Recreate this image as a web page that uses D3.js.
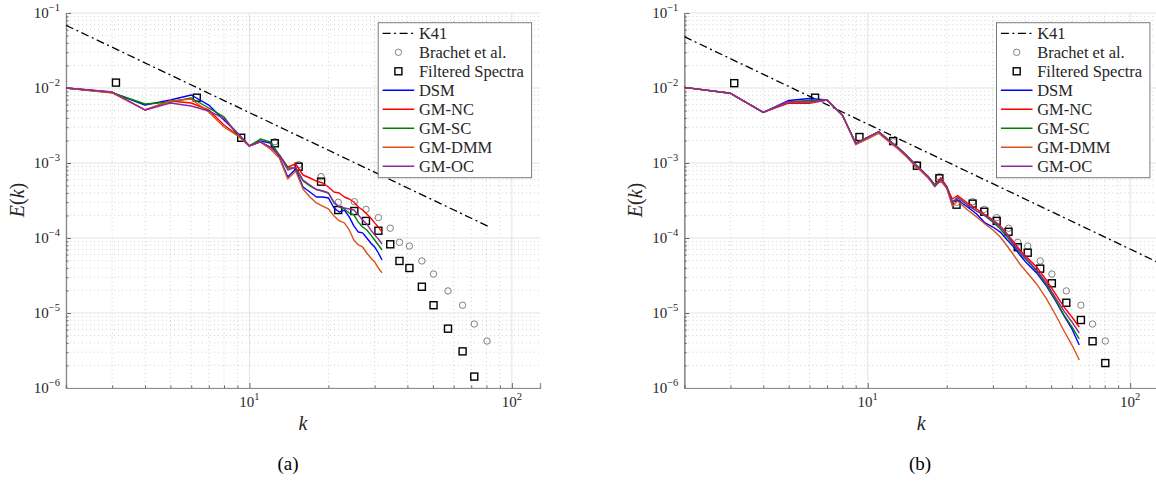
<!DOCTYPE html>
<html><head><meta charset="utf-8">
<script src="https://cdn.jsdelivr.net/npm/d3@7"></script>
<style>
body{margin:0;background:#fff}
svg{display:block}
svg text{font-family:"Liberation Serif","LiberationSerif","Tinos","DejaVu Serif","Times New Roman",serif;fill:#262626}
</style>
</head><body>
<svg id="chart" width="1156" height="481"></svg>
<script>
// ---------------- DATA ----------------
const seriesNames = ["DSM", "GM-NC", "GM-SC", "GM-DMM", "GM-OC"];

// Panel (a): LES spectra at integer wavenumbers
const kA = [2,3,4,5,6,7,8,9,10,11,12,13,14,15,16,17,18,19,20,21,22,23,24,25,26,27,28,29,30,31,32];
const dsmA = [1.0e-2,8.7e-3,5.93e-3,6.92e-3,8.07e-3,5.93e-3,3.74e-3,2.51e-3,1.69e-3,1.97e-3,1.85e-3,1.20e-3,6.51e-4,8.32e-4,4.79e-4,4.11e-4,3.52e-4,3.52e-4,3.42e-4,2.51e-4,2.22e-4,2.36e-4,1.91e-4,1.45e-4,1.20e-4,1.17e-4,1.0e-4,8.58e-5,7.59e-5,6.31e-5,5.09e-5];
const ncA  = [1.0e-2,8.84e-3,5.09e-3,6.71e-3,6.31e-3,5.09e-3,3.21e-3,2.36e-3,1.69e-3,1.91e-3,1.63e-3,1.28e-3,8.84e-4,9.70e-4,6.92e-4,6.31e-4,5.75e-4,5.41e-4,4.79e-4,4.11e-4,3.98e-4,3.52e-4,3.31e-4,3.02e-4,2.59e-4,2.36e-4,2.09e-4,1.85e-4,1.59e-4,1.40e-4,1.20e-4];
const scA  = [1.0e-2,8.7e-3,6.12e-3,6.51e-3,7.36e-3,5.41e-3,4.11e-3,2.36e-3,1.69e-3,2.09e-3,1.91e-3,1.28e-3,8.58e-4,8.58e-4,5.75e-4,4.94e-4,4.43e-4,4.23e-4,3.98e-4,2.93e-4,2.59e-4,2.44e-4,2.15e-4,2.03e-4,1.63e-4,1.40e-4,1.28e-4,1.10e-4,9.40e-5,8.07e-5,6.92e-5];
const dmmA = [1.0e-2,8.58e-3,5.09e-3,6.71e-3,7.13e-3,4.79e-3,3.02e-3,2.32e-3,1.69e-3,1.91e-3,1.54e-3,1.17e-3,6.12e-4,7.82e-4,4.50e-4,3.52e-4,2.93e-4,2.67e-4,2.44e-4,1.97e-4,1.69e-4,1.59e-4,1.28e-4,9.40e-5,8.07e-5,7.59e-5,6.31e-5,5.41e-5,4.79e-5,3.98e-5,3.42e-5];
const ocA  = [1.0e-2,8.84e-3,5.09e-3,6.31e-3,5.75e-3,4.94e-3,3.92e-3,2.51e-3,1.69e-3,1.91e-3,1.63e-3,1.28e-3,8.07e-4,8.84e-4,5.93e-4,5.09e-4,4.43e-4,4.23e-4,3.98e-4,3.02e-4,2.59e-4,2.51e-4,2.44e-4,2.36e-4,2.03e-4,1.74e-4,1.54e-4,1.28e-4,1.10e-4,9.70e-5,8.32e-5];

// Panel (b): LES spectra
const kB = [2,3,4,5,6,7,8,9,10,11,12,13,14,15,16,17,18,19,20,21,22,24,26,28,30,32,34,36,38,40,44,48,52,56,60,64];
const dsmB = [1.02e-2,8.5e-3,4.74e-3,6.82e-3,7.24e-3,6.92e-3,4.37e-3,1.83e-3,2.19e-3,2.61e-3,2.03e-3,1.62e-3,1.28e-3,9.9e-4,8.07e-4,6.57e-4,5.09e-4,6.06e-4,4.83e-4,3.02e-4,3.21e-4,2.59e-4,2.09e-4,1.59e-4,1.40e-4,1.20e-4,9.40e-5,7.59e-5,5.93e-5,4.79e-5,3.42e-5,2.29e-5,1.45e-5,9.12e-6,6.12e-6,3.74e-6];
const ncB  = [1.02e-2,8.5e-3,4.74e-3,6.31e-3,6.25e-3,6.92e-3,4.37e-3,1.83e-3,2.19e-3,2.61e-3,2.03e-3,1.62e-3,1.28e-3,9.9e-4,8.07e-4,6.57e-4,5.09e-4,6.36e-4,4.83e-4,3.31e-4,3.69e-4,2.93e-4,2.44e-4,2.03e-4,1.74e-4,1.45e-4,1.13e-4,8.84e-5,6.92e-5,5.75e-5,4.11e-5,2.75e-5,1.79e-5,1.20e-5,8.84e-6,6.51e-6];
const scB  = [1.02e-2,8.5e-3,4.74e-3,6.57e-3,6.82e-3,6.92e-3,4.37e-3,1.83e-3,2.19e-3,2.61e-3,2.03e-3,1.62e-3,1.28e-3,9.9e-4,8.07e-4,6.57e-4,5.09e-4,6.06e-4,4.83e-4,2.90e-4,3.49e-4,2.75e-4,2.29e-4,1.97e-4,1.63e-4,1.32e-4,1.03e-4,8.07e-5,6.31e-5,5.25e-5,3.63e-5,2.36e-5,1.49e-5,9.40e-6,6.51e-6,4.50e-6];
const dmmB = [1.02e-2,8.5e-3,4.74e-3,6.57e-3,6.45e-3,6.92e-3,4.37e-3,1.76e-3,2.09e-3,2.49e-3,1.94e-3,1.55e-3,1.22e-3,9.45e-4,7.7e-4,6.27e-4,4.94e-4,5.75e-4,4.57e-4,2.67e-4,3.11e-4,2.36e-4,1.91e-4,1.54e-4,1.28e-4,1.03e-4,7.82e-5,5.93e-5,4.50e-5,3.63e-5,2.44e-5,1.54e-5,9.40e-6,5.75e-6,3.74e-6,2.36e-6];
const ocB  = [1.02e-2,8.5e-3,4.74e-3,6.57e-3,6.51e-3,6.92e-3,4.37e-3,1.83e-3,2.19e-3,2.61e-3,2.03e-3,1.62e-3,1.28e-3,9.9e-4,8.07e-4,6.57e-4,4.83e-4,6.06e-4,4.83e-4,2.90e-4,3.49e-4,2.75e-4,2.29e-4,1.97e-4,1.69e-4,1.40e-4,1.10e-4,8.32e-5,6.51e-5,5.41e-5,3.74e-5,2.51e-5,1.59e-5,1.06e-5,7.59e-6,5.41e-6];

// Brachet et al. reference spectrum (same in both panels)
const kBrachet = [12.5,15.4,18.75,21.8,25.1,27.8,31,34.4,37.3,40.7,45.4,50.3,57.1,64.9,71.9,80.4];
const eBrachet = [1.92e-3,9.49e-4,6.57e-4,2.99e-4,3.05e-4,2.41e-4,1.87e-4,1.35e-4,8.77e-5,7.82e-5,4.94e-5,3.31e-5,1.97e-5,1.27e-5,7.13e-6,4.23e-6];

// Filtered spectra
const kFiltA = [3.1,6.3,9.3,12.5,15.4,18.75,21.8,25.1,27.8,31,34.4,37.3,40.7,45.4,50.3,57.1,64.9,71.9];
const eFiltA = [1.18e-2,7.43e-3,2.17e-3,1.83e-3,8.93e-4,5.64e-4,2.36e-4,2.29e-4,1.69e-4,1.25e-4,8.24e-5,4.94e-5,3.98e-5,2.24e-5,1.27e-5,6.18e-6,3.08e-6,1.42e-6];
const kFiltB = [3.1,6.3,9.3,12.5,15.4,18.75,21.8,25.1,27.8,31,34.4,37.3,40.7,45.4,50.3,57.1,64.9,71.9,80.4];
const eFiltB = [1.16e-2,7.43e-3,2.22e-3,1.96e-3,9.2e-4,6.25e-4,2.78e-4,2.87e-4,2.24e-4,1.69e-4,1.21e-4,7.54e-5,6.37e-5,3.9e-5,2.49e-5,1.37e-5,8.07e-6,4.2e-6,2.15e-6];

// K41 reference line end points
const kK41A = [2, 82];
const eK41A = [0.0686, 1.41e-4];
const kK41B = [2, 128];
const eK41B = [0.0483, 4.71e-5];

// Axis settings
const kDomain = [2, 128];
const eDomain = [1e-6, 1e-1];
const yTickExp = [-6, -5, -4, -3, -2, -1];
const xTickExp = [1, 2];
const panelLabels = ["(a)", "(b)"];

// ---------------- STYLE ----------------
const FONT = '"Liberation Serif","LiberationSerif","Tinos","DejaVu Serif","Times New Roman",serif';
const seriesColors = ["#0000ff", "#ff0000", "#008000", "#d95319", "#8e2a9c"];
const svg = d3.select("#chart");
const W = 474, H = 375;

const panels = [
  {x0: 66, y0: 13, k: kA, series: [dsmA, ncA, scA, dmmA, ocA], kF: kFiltA, eF: eFiltA, kK: kK41A, eK: eK41A, label: panelLabels[0], labelX: 288},
  {x0: 684.3, y0: 13, k: kB, series: [dsmB, ncB, scB, dmmB, ocB], kF: kFiltB, eF: eFiltB, kK: kK41B, eK: eK41B, label: panelLabels[1], labelX: 920}
];

function txt(sel) { return sel.append("text").attr("font-family", FONT).style("font-family", FONT); }

panels.forEach((p, pi) => {
  const x = d3.scaleLog().domain(kDomain).range([0, W]);
  const y = d3.scaleLog().domain(eDomain).range([H, 0]);
  const g = svg.append("g").attr("transform", `translate(${p.x0},${p.y0})`);

  const clipId = "clip" + pi;
  g.append("clipPath").attr("id", clipId).append("rect").attr("width", W).attr("height", H);

  // minor grid
  const isDecade = v => Math.abs(Math.log10(v) - Math.round(Math.log10(v))) < 1e-9;
  const xMinor = x.ticks().filter(v => !isDecade(v));
  const yMinor = y.ticks().filter(v => !isDecade(v));
  const grid = g.append("g");
  grid.selectAll("line.xm").data(xMinor).join("line")
    .attr("x1", d => x(d)).attr("x2", d => x(d)).attr("y1", 0).attr("y2", H)
    .attr("stroke", "#c8c8c8").attr("stroke-width", 0.8).attr("stroke-dasharray", "1,3");
  grid.selectAll("line.ym").data(yMinor).join("line")
    .attr("y1", d => y(d)).attr("y2", d => y(d)).attr("x1", 0).attr("x2", W)
    .attr("stroke", "#c8c8c8").attr("stroke-width", 0.8).attr("stroke-dasharray", "1,3");
  // major grid
  const xMajor = xTickExp.map(e => Math.pow(10, e));
  const yMajor = yTickExp.map(e => Math.pow(10, e));
  grid.selectAll("line.xM").data(xMajor).join("line")
    .attr("x1", d => x(d)).attr("x2", d => x(d)).attr("y1", 0).attr("y2", H)
    .attr("stroke", "#e3e3e3").attr("stroke-width", 1);
  grid.selectAll("line.yM").data(yMajor).join("line")
    .attr("y1", d => y(d)).attr("y2", d => y(d)).attr("x1", 0).attr("x2", W)
    .attr("stroke", "#e3e3e3").attr("stroke-width", 1);

  // axes (inward ticks)
  const yAxis = d3.axisLeft(y).tickValues(yMajor).tickSize(-5).tickFormat("");
  const yAxisMinor = d3.axisLeft(y).tickValues(yMinor).tickSize(-2.5).tickFormat("");
  const xAxis = d3.axisBottom(x).tickValues(xMajor).tickSize(-5).tickFormat("");
  const xAxisMinor = d3.axisBottom(x).tickValues(xMinor).tickSize(-2.5).tickFormat("");
  [g.append("g").call(yAxis), g.append("g").call(yAxisMinor)].forEach(a => {
    a.select(".domain").attr("stroke", "#8c8c8c").attr("stroke-width", 1.2);
    a.selectAll(".tick line").attr("stroke", "#666");
  });
  [g.append("g").attr("transform", `translate(0,${H})`).call(xAxis),
   g.append("g").attr("transform", `translate(0,${H})`).call(xAxisMinor)].forEach(a => {
    a.select(".domain").attr("stroke", "#8c8c8c").attr("stroke-width", 1.2);
    a.selectAll(".tick line").attr("stroke", "#666");
  });

  // tick labels
  yTickExp.forEach(e => {
    const t = txt(g).attr("x", -6).attr("y", y(Math.pow(10, e)) + 5)
      .attr("text-anchor", "end").style("font-size", "15px");
    t.append("tspan").text("10");
    t.append("tspan").attr("dy", -7).style("font-size", "10.5px").text("\u2212" + (-e));
  });
  xTickExp.forEach(e => {
    const t = txt(g).attr("x", x(Math.pow(10, e))).attr("y", H + 19)
      .attr("text-anchor", "middle").style("font-size", "15px");
    t.append("tspan").text("10");
    t.append("tspan").attr("dy", -7).style("font-size", "10.5px").text(String(e));
  });

  // axis titles
  const yl = txt(g).attr("transform", `translate(-49.3,${200 - p.y0}) rotate(-90)`)
    .attr("text-anchor", "middle").attr("dy", "0.35em").style("font-size", "20px");
  yl.append("tspan").style("font-style", "italic").text("E");
  yl.append("tspan").text("(");
  yl.append("tspan").style("font-style", "italic").text("k");
  yl.append("tspan").text(")");
  txt(g).attr("x", W / 2).attr("y", 423 - p.y0).attr("dy", "0.35em")
    .attr("text-anchor", "middle").style("font-size", "20px").style("font-style", "italic").text("k");
  txt(svg).attr("x", p.labelX).attr("y", 463).attr("dy", "0.35em")
    .attr("text-anchor", "middle").style("font-size", "19px").style("fill", "#000").text(p.label);

  const plot = g.append("g").attr("clip-path", `url(#${clipId})`);

  // K41 line
  const k41 = p.kK.map((k, i) => [k, p.eK[i]]);
  plot.append("path").datum(k41)
    .attr("d", d3.line().x(d => x(d[0])).y(d => y(d[1])))
    .attr("fill", "none").attr("stroke", "#000").attr("stroke-width", 1.3)
    .attr("stroke-dasharray", "8,3.5,2,3.5");

  // Brachet circles
  plot.selectAll("circle.br").data(kBrachet.map((k, i) => [k, eBrachet[i]])).join("circle")
    .attr("cx", d => x(d[0])).attr("cy", d => y(d[1])).attr("r", 3.2)
    .attr("fill", "none").attr("stroke", "#808080").attr("stroke-width", 1);

  // Filtered spectra squares
  plot.selectAll("rect.fs").data(p.kF.map((k, i) => [k, p.eF[i]])).join("rect")
    .attr("x", d => x(d[0]) - 3.5).attr("y", d => y(d[1]) - 3.5).attr("width", 7).attr("height", 7)
    .attr("fill", "none").attr("stroke", "#000").attr("stroke-width", 1.4);

  // LES lines
  p.series.forEach((s, si) => {
    plot.append("path").datum(p.k.map((k, i) => [k, s[i]]))
      .attr("d", d3.line().x(d => x(d[0])).y(d => y(d[1])))
      .attr("fill", "none").attr("stroke", seriesColors[si]).attr("stroke-width", 1.4)
      .attr("stroke-linejoin", "round");
  });

  // legend
  const lg = g.append("g").attr("transform", `translate(312.2,${22.7 - p.y0})`);
  lg.append("rect").attr("width", 153.4).attr("height", 155)
    .attr("fill", "#fff").attr("stroke", "#7a7a7a").attr("stroke-width", 1);
  const rowY = i => 10.6 + i * 19;
  const sx0 = 4.4, sx1 = 36, tx = 40.7;
  const entries = ["K41", "Brachet et al.", "Filtered Spectra"].concat(seriesNames);
  entries.forEach((name, i) => {
    const ry = rowY(i);
    if (i === 0) {
      lg.append("line").attr("x1", sx0).attr("x2", sx1).attr("y1", ry).attr("y2", ry)
        .attr("stroke", "#000").attr("stroke-width", 1.3).attr("stroke-dasharray", "8,3.5,2,3.5");
    } else if (i === 1) {
      lg.append("circle").attr("cx", (sx0 + sx1) / 2).attr("cy", ry).attr("r", 3.2)
        .attr("fill", "none").attr("stroke", "#808080").attr("stroke-width", 1);
    } else if (i === 2) {
      lg.append("rect").attr("x", (sx0 + sx1) / 2 - 3.5).attr("y", ry - 3.5).attr("width", 7).attr("height", 7)
        .attr("fill", "none").attr("stroke", "#000").attr("stroke-width", 1.4);
    } else {
      lg.append("line").attr("x1", sx0).attr("x2", sx1).attr("y1", ry).attr("y2", ry)
        .attr("stroke", seriesColors[i - 3]).attr("stroke-width", 1.4);
    }
    txt(lg).attr("x", tx).attr("y", ry).attr("dy", "0.35em")
      .style("font-size", "16.5px").text(name);
  });
});
</script>
</body></html>
